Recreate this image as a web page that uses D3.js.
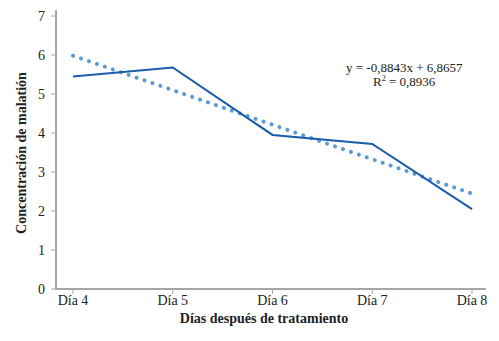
<!DOCTYPE html>
<html><head><meta charset="utf-8">
<script src="https://cdn.jsdelivr.net/npm/d3@7"></script>
<style>body{margin:0;background:#fff}svg{display:block}</style>
</head><body>
<script>
const categories = ["Día 4","Día 5","Día 6","Día 7","Día 8"];
const values = [5.45, 5.68, 3.95, 3.72, 2.05];
const yTicks = [0,1,2,3,4,5,6,7];
const slope = -0.8843, intercept = 6.8657;
const eqLabel = "y = -0,8843x + 6,8657";
const r2Label = "0,8936";

const W = 499, H = 341;
const svg = d3.select("body").append("svg").attr("width", W).attr("height", H);
const font = "'Liberation Serif','Times New Roman',serif";

const x = d3.scalePoint().domain(categories).range([73, 472]);
const y = d3.scaleLinear().domain([0,7]).range([289, 16]);

// axes
const axisColor = "#a6a6a6";
svg.append("line").attr("x1",56).attr("x2",56).attr("y1",y(7)-6).attr("y2",y(0)).attr("stroke",axisColor).attr("stroke-width",2);
svg.append("line").attr("x1",55).attr("x2",486).attr("y1",y(0)).attr("y2",y(0)).attr("stroke",axisColor).attr("stroke-width",2);

svg.selectAll(".yt").data(yTicks).enter().append("line")
  .attr("x1",51).attr("x2",56).attr("y1",d=>y(d)).attr("y2",d=>y(d)).attr("stroke",axisColor);
svg.selectAll(".ytl").data(yTicks).enter().append("text")
  .attr("x",45).attr("y",d=>y(d)+5).attr("text-anchor","end")
  .attr("font-family",font).attr("font-size",14).attr("fill","#222").text(d=>d);

svg.selectAll(".xt").data(categories).enter().append("line")
  .attr("x1",d=>x(d)).attr("x2",d=>x(d)).attr("y1",y(0)).attr("y2",y(0)+5).attr("stroke",axisColor);
svg.selectAll(".xtl").data(categories).enter().append("text")
  .attr("x",d=>x(d)).attr("y",y(0)+16).attr("text-anchor","middle")
  .attr("font-family",font).attr("font-size",14).attr("fill","#222").text(d=>d);

svg.append("text").attr("x",264).attr("y",323).attr("text-anchor","middle")
  .attr("font-family",font).attr("font-size",14).attr("font-weight","bold").attr("fill","#222")
  .text("Días después de tratamiento");
svg.append("text").attr("transform","translate(26,153) rotate(-90)").attr("text-anchor","middle")
  .attr("font-family",font).attr("font-size",14).attr("font-weight","bold").attr("fill","#222")
  .text("Concentración de malatión");

// trend line (dotted)
const trend = categories.map((c,i)=>({c, v: slope*(i+1)+intercept}));
svg.append("path").datum(trend)
  .attr("d", d3.line().x(d=>x(d.c)).y(d=>y(d.v)))
  .attr("fill","none").attr("stroke","#5b9bd5").attr("stroke-width",4)
  .attr("stroke-linecap","round").attr("stroke-dasharray","0.1 8.3");

// data line
svg.append("path").datum(categories.map((c,i)=>({c, v: values[i]})))
  .attr("d", d3.line().x(d=>x(d.c)).y(d=>y(d.v)))
  .attr("fill","none").attr("stroke","#1a5cab").attr("stroke-width",2);

// equation
const eq = svg.append("g").attr("font-family",font).attr("font-size",13).attr("fill","#222");
eq.append("text").attr("x",346).attr("y",72).text(eqLabel);
const r = eq.append("text").attr("x",373).attr("y",86);
r.append("tspan").text("R");
r.append("tspan").attr("font-size",8).attr("dy",-5).text("2");
r.append("tspan").attr("dy",5).text(" = " + r2Label);
</script>
</body></html>
